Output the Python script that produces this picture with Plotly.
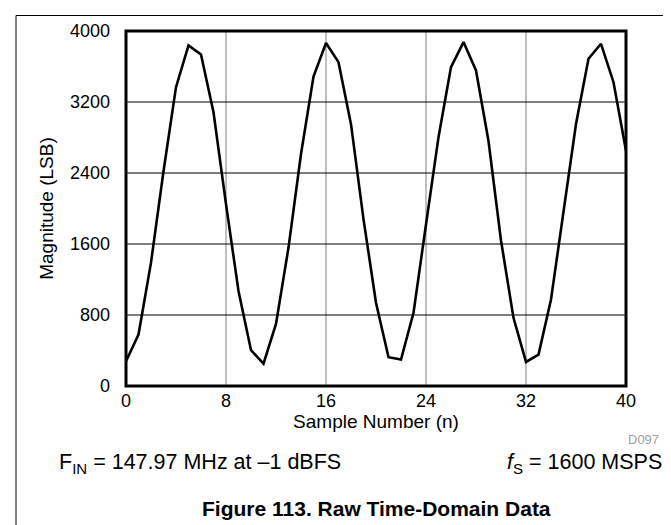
import plotly.graph_objects as go

sample_n = list(range(41))
magnitude = [279, 580, 1390, 2420, 3367, 3838, 3736, 3084, 2050, 1070,
             403, 252, 700, 1560, 2614, 3487, 3864, 3649, 2950, 1880,
             938, 324, 298, 825, 1820, 2802, 3593, 3875, 3555, 2760,
             1640, 768, 271, 354, 975, 1950, 2952, 3687, 3856, 3423, 2651]

x_ticks = [0, 8, 16, 24, 32, 40]
y_ticks = [0, 800, 1600, 2400, 3200, 4000]

FONT = "Arial, Liberation Sans, sans-serif"
L, R, T, B = 118, 53, 23, 147
W, H = 671, 525
PW, PH = W - L - R, H - T - B

def px(x):
    return (x - L) / PW

def py(y):
    return (H - B - y) / PH

fig = go.Figure()
fig.add_trace(go.Scatter(x=sample_n, y=magnitude, mode="lines",
                         line=dict(color="black", width=2.6), showlegend=False,
                         hoverinfo="skip"))

for xv in x_ticks[1:-1]:
    fig.add_shape(type="line", xref="x", yref="paper", x0=xv, x1=xv, y0=0, y1=1,
                  line=dict(color="#808080", width=1), layer="below")
for yv in y_ticks[1:-1]:
    fig.add_shape(type="line", xref="paper", yref="y", x0=0, x1=1, y0=yv, y1=yv,
                  line=dict(color="black", width=1), layer="below")

fig.add_shape(type="rect", xref="paper", yref="paper", x0=0, x1=1, y0=0, y1=1,
              line=dict(color="black", width=3))

fig.add_shape(type="line", xref="paper", yref="paper", x0=px(8), x1=px(W + 5),
              y0=py(7.5), y1=py(7.5), line=dict(color="black", width=1))
fig.add_shape(type="line", xref="paper", yref="paper", x0=px(8), x1=px(8),
              y0=py(7.5), y1=py(H + 5), line=dict(color="black", width=1))

TICKF = dict(family=FONT, size=18, color="black")
TITLEF = dict(family=FONT, size=19, color="black")

fig.update_xaxes(range=[0, 40], tickvals=x_ticks, ticktext=[str(v) for v in x_ticks],
                 showgrid=False, zeroline=False, showline=False, ticks="",
                 tickfont=TICKF, ticklabelstandoff=2,
                 title=dict(text="Sample Number (n)", font=TITLEF, standoff=0))
fig.update_yaxes(range=[0, 4000], tickvals=y_ticks, ticktext=[str(v) for v in y_ticks],
                 showgrid=False, zeroline=False, showline=False, ticks="",
                 tickfont=TICKF, ticklabelstandoff=15,
                 title=dict(text="Magnitude (LSB)", font=TITLEF, standoff=11))

annots = [
    dict(text="D097", x=px(653), y=py(431), font=dict(family=FONT, size=13, color="#a0a0a0"),
         xanchor="right", yanchor="middle"),
    dict(text="F<sub>IN</sub> = 147.97 MHz at \u20131 dBFS", x=px(49), y=py(455),
         font=dict(family=FONT, size=21.5, color="black"), xanchor="left", yanchor="middle"),
    dict(text="<i>f</i><sub>S</sub> = 1600 MSPS", x=px(656), y=py(455),
         font=dict(family=FONT, size=21.5, color="black"), xanchor="right", yanchor="middle"),
    dict(text="<b>Figure 113. Raw Time-Domain Data</b>", x=px(192), y=py(500),
         font=dict(family=FONT, size=21, color="black"), xanchor="left", yanchor="middle"),
]
for a in annots:
    fig.add_annotation(xref="paper", yref="paper", showarrow=False, **a)

fig.update_layout(width=W, height=H, margin=dict(l=L, r=R, t=T, b=B),
                  plot_bgcolor="white", paper_bgcolor="white",
                  font=dict(family=FONT, color="black"))

fig.write_html("out.html")
